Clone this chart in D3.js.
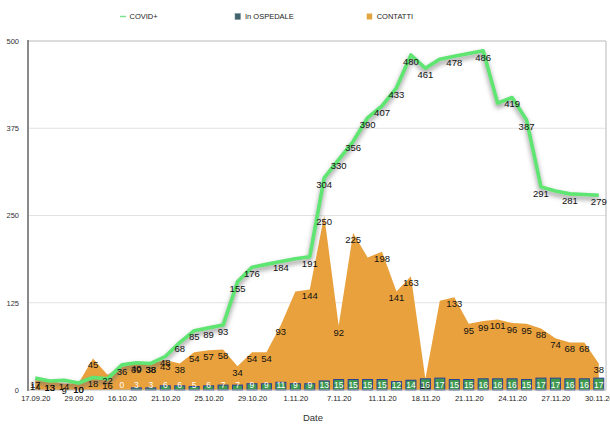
<!DOCTYPE html>
<html><head><meta charset="utf-8">
<script src="https://cdn.jsdelivr.net/npm/d3@7"></script>
<style>html,body{margin:0;padding:0;background:#fff;} svg{display:block;font-family:"Liberation Sans",Arial,Helvetica,sans-serif;}</style>
</head><body><svg id="c" width="610" height="431"></svg>
<script>
const dates = ["17.09.20","20.09.20","24.09.20","29.09.20","2.10.20","9.10.20","16.10.20","18.10.20","19.10.20","21.10.20",
  "22.10.20","23.10.20","25.10.20","26.10.20","28.10.20","29.10.20","30.10.20","31.10.20","1.11.20","3.11.20",
  "5.11.20","7.11.20","8.11.20","10.11.20","11.11.20","13.11.20","16.11.20","18.11.20","19.11.20","20.11.20",
  "21.11.20","22.11.20","23.11.20","24.11.20","25.11.20","26.11.20","27.11.20","28.11.20","29.11.20","30.11.20"];
const covid = [17,13,14,10,18,16,36,39,38,48,68,85,89,93,155,176,180,184,188,191,304,330,356,390,407,433,480,461,474,478,482,486,411,419,387,291,285,281,280,279];
const ospedale = [null,null,null,null,null,null,0,3,3,6,6,5,6,7,7,9,9,11,9,9,13,15,15,15,15,12,14,16,17,15,15,16,16,16,15,17,17,16,16,17];
const contatti = [14,13,9,10,45,22,33,40,38,43,38,54,57,58,34,54,54,93,141,144,250,92,225,190,198,141,163,16,128,133,95,99,101,96,95,88,74,68,68,38];
const yTicks = [0,125,250,375,500];
const covidHidden = [16,18,28,30,32,36,38];
const contattiHidden = [6,18,23,28];
const seriesNames = ["COVID+","In OSPEDALE","CONTATTI"];
const xTitle = "Date";

const svg = d3.select("#c");
const x = d3.scalePoint().domain(dates).range([28,606]).padding(0.5);
const y = d3.scaleLinear().domain([0,500]).range([390,41]);
const L = 28, R = 606, T = 41, B = 390;

const defs = svg.append("defs");
const f = defs.append("filter").attr("id","sh").attr("x","-10%").attr("y","-20%").attr("width","120%").attr("height","140%");
f.append("feDropShadow").attr("dx",0).attr("dy",3).attr("stdDeviation",2.6).attr("flood-color","#6f6f6f").attr("flood-opacity",0.8);

// grid
svg.append("g").selectAll("line").data(yTicks.filter(d=>d>0 && d<500)).join("line")
  .attr("x1",L).attr("x2",R).attr("y1",d=>y(d)).attr("y2",d=>y(d))
  .attr("stroke","#e2e2e2").attr("stroke-width",1);
svg.append("line").attr("x1",L).attr("x2",R).attr("y1",y(500)).attr("y2",y(500)).attr("stroke","#b8b8b8");
svg.append("line").attr("x1",R).attr("x2",R).attr("y1",T).attr("y2",B).attr("stroke","#b8b8b8");

// area
const area = d3.area().x((d,i)=>x(dates[i])).y0(y(0)).y1(d=>y(d));
svg.append("path").datum(contatti).attr("d",area).attr("fill","#e9a13d");

// bars
const bw = 10;
svg.append("g").selectAll("rect").data(ospedale.map((v,i)=>({v,i})).filter(d=>d.v!==null && d.v>0)).join("rect")
  .attr("x",d=>x(dates[d.i])-bw/2).attr("width",bw)
  .attr("y",d=>y(d.v)).attr("height",d=>y(0)-y(d.v))
  .attr("fill","#3f9a50").attr("stroke","#2b3f96").attr("stroke-width",1);

// line
const line = d3.line().x((d,i)=>x(dates[i])).y(d=>y(d));
svg.append("path").datum(covid).attr("d",line).attr("fill","none")
  .attr("stroke","#5fe572").attr("stroke-width",3.6).attr("stroke-linejoin","round").attr("filter","url(#sh)");

// axes
svg.append("line").attr("x1",L).attr("x2",R).attr("y1",B).attr("y2",B).attr("stroke","#b8b8b8");
svg.append("line").attr("x1",L).attr("x2",L).attr("y1",T-1).attr("y2",B+1).attr("stroke","#8a8a8a").attr("stroke-width",2);

const yAxis = svg.append("g").attr("transform",`translate(19,0)`)
  .call(d3.axisLeft(y).tickValues(yTicks).tickSize(0).tickPadding(0));
yAxis.select(".domain").remove();
yAxis.selectAll("text").attr("font-size","7.5px").attr("fill","#333").attr("font-family","Liberation Sans, Arial, sans-serif");

const xAxis = svg.append("g").attr("transform",`translate(0,396)`)
  .call(d3.axisBottom(x).tickValues(dates.filter((d,i)=>i%3===0)).tickSize(0).tickPadding(0));
xAxis.select(".domain").remove();
xAxis.selectAll("text").attr("font-size","7.5px").attr("fill","#222").attr("font-family","Liberation Sans, Arial, sans-serif");

svg.append("text").attr("x",313).attr("y",421).attr("text-anchor","middle")
  .attr("font-size","9.5px").attr("fill","#333").text(xTitle);

// labels
const lab = svg.append("g").attr("font-size","9.5px").attr("fill","#111").attr("text-anchor","middle");
contatti.forEach((v,i)=>{ if(contattiHidden.includes(i)) return;
  lab.append("text").attr("x",x(dates[i])).attr("y",y(v)+6.5).attr("dy","0.35em").text(v); });
covid.forEach((v,i)=>{ if(covidHidden.includes(i)) return;
  lab.append("text").attr("x",x(dates[i])).attr("y",y(v)+6.5).attr("dy","0.35em").text(v); });
const hl = svg.append("g").attr("font-size","8.5px").attr("fill","#fff").attr("text-anchor","middle");
ospedale.forEach((v,i)=>{ if(v===null) return;
  hl.append("text").attr("x",x(dates[i])).attr("y",385).attr("dy","0.35em").text(v); });

// legend
const lg = svg.append("g").attr("font-size","7.5px").attr("fill","#222");
lg.append("line").attr("x1",120).attr("x2",126).attr("y1",16.5).attr("y2",16.5).attr("stroke","#7fe08c").attr("stroke-width",1.5);
lg.append("text").attr("x",129.5).attr("y",19.3).text(seriesNames[0]);
lg.append("rect").attr("x",235).attr("y",13.5).attr("width",5.5).attr("height",6).attr("fill","#42636b").attr("stroke","#7d949a").attr("stroke-width",0.6);
lg.append("text").attr("x",245).attr("y",19.3).text(seriesNames[1]);
lg.append("rect").attr("x",366.7).attr("y",13.5).attr("width",5.5).attr("height",6).attr("fill","#e3a540");
lg.append("text").attr("x",376.7).attr("y",19.3).text(seriesNames[2]);
</script></body></html>
